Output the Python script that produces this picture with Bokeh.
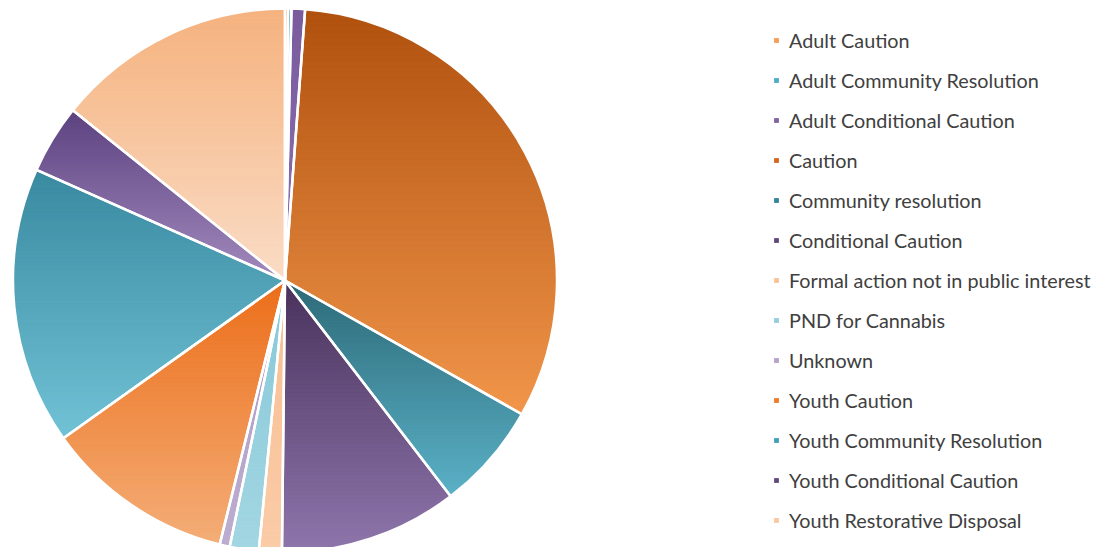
import numpy as np
from bokeh.plotting import figure
from bokeh.models import Range1d, ColumnDataSource
from bokeh.embed import file_html
from bokeh.resources import INLINE

# ---- data (percent share of outcomes) ----
categories = [
    "Adult Caution", "Adult Community Resolution", "Adult Conditional Caution",
    "Caution", "Community resolution", "Conditional Caution",
    "Formal action not in public interest", "PND for Cannabis", "Unknown",
    "Youth Caution", "Youth Community Resolution", "Youth Conditional Caution",
    "Youth Restorative Disposal",
]
values = [0.18, 0.2, 0.8, 32.0, 6.4, 10.6, 1.36, 1.72, 0.6, 11.3, 16.5, 4.1, 14.24]

legend_colors = ["#F59D56", "#4BACC6", "#8064A2", "#D4661C", "#31859C", "#5F497A",
                 "#FAC090", "#93CDDD", "#B3A2C7", "#F07A2A", "#3FA0BA", "#604A7B", "#FAC7A0"]
top_colors = ["#F08A3A", "#3F9AB2", "#7A5C9E", "#B0510E", "#2D6A78", "#4A325C",
              "#F8BE92", "#88C8D8", "#AE9CC4", "#EC6E1A", "#398AA0", "#5C4280", "#F5B27E"]
bottom_colors = ["#F6B07A", "#6DBED2", "#8A70AE", "#F0954A", "#5BB1C7", "#8E76AC",
                 "#FACCA8", "#A3D6E2", "#BCADD0", "#F4AE78", "#72C2D6", "#A38BBE", "#FADCC6"]

W, H = 1099, 547
cx, cy, R = 284.5, 267.0, 272.0

vals = np.array(values, dtype=float)
frac = vals / vals.sum()
cum = np.concatenate([[0.0], np.cumsum(frac)])
start = np.pi / 2 - cum[1:] * 2 * np.pi
end = np.pi / 2 - cum[:-1] * 2 * np.pi

src = ColumnDataSource(dict(cat=categories, start=start, end=end, color=legend_colors))

p = figure(width=W, height=H, output_backend="svg", toolbar_location=None,
           x_range=Range1d(0, W), y_range=Range1d(0, H),
           x_axis_location=None, y_axis_location=None, min_border=0)
p.grid.visible = False
p.outline_line_color = None
p.background_fill_color = "white"
p.border_fill_color = "white"

# base wedges (also used for legend)
p.wedge(x=cx, y=cy, radius=R, start_angle="start", end_angle="end", source=src,
        fill_color="color", line_color=None, legend_field="cat")


def hex2rgb(h):
    h = h.lstrip("#")
    return np.array([int(h[i:i + 2], 16) for i in (0, 2, 4)], dtype=float)


def rgb2hex(c):
    c = np.clip(np.round(c), 0, 255).astype(int)
    return "#%02x%02x%02x" % tuple(c)


def clip(poly, y0, keep_above):
    out = []
    n = len(poly)
    for k in range(n):
        P = poly[k]
        Q = poly[(k + 1) % n]
        inP = P[1] >= y0 if keep_above else P[1] <= y0
        inQ = Q[1] >= y0 if keep_above else Q[1] <= y0
        if inP:
            out.append(P)
        if inP != inQ:
            t = (y0 - P[1]) / (Q[1] - P[1])
            out.append((P[0] + t * (Q[0] - P[0]), y0))
    return out


# gradient bands (vertical linear gradient per slice, darker at top)
bx, by, bc = [], [], []
for i in range(len(values)):
    a = np.linspace(start[i], end[i], 240)
    poly = [(cx, cy)] + [(cx + R * np.cos(t), cy + R * np.sin(t)) for t in a]
    ys = [q[1] for q in poly]
    ymin, ymax = min(ys), max(ys)
    n = 70
    edges = np.linspace(ymax, ymin, n + 1)
    c0, c1 = hex2rgb(top_colors[i]), hex2rgb(bottom_colors[i])
    for k in range(n):
        yh, yl = edges[k], edges[k + 1]
        pp = clip(poly, yl - 0.3, True)
        if not pp:
            continue
        pp = clip(pp, yh + 0.3, False)
        if len(pp) < 3:
            continue
        t = (k + 0.5) / n
        bx.append([q[0] for q in pp])
        by.append([q[1] for q in pp])
        bc.append(rgb2hex(c0 + (c1 - c0) * t))

p.patches(xs=bx, ys=by, fill_color=bc, line_color=bc, line_width=0.5)

# white separators
p.wedge(x=cx, y=cy, radius=R, start_angle="start", end_angle="end", source=src,
        fill_color=None, line_color="white", line_width=2.5)

lg = p.legend[0]
lg.location = (773, 13)
lg.glyph_width = 6
lg.glyph_height = 6
lg.label_height = 28
lg.spacing = 12
lg.padding = 0
lg.margin = 0
lg.label_standoff = 10
lg.label_text_font = "Lato"
lg.label_text_font_size = "19.8px"
lg.label_text_color = "#404040"
lg.border_line_color = None
lg.background_fill_alpha = 0

open("out.html", "w").write(file_html(p, INLINE))
